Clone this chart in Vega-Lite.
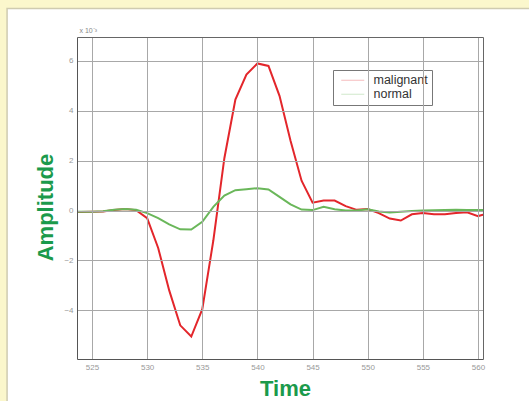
{
  "$schema": "https://vega.github.io/schema/vega-lite/v6.json",
  "width": 406,
  "height": 322,
  "autosize": {"type": "none"},
  "padding": {"left": 77, "top": 37, "right": 46, "bottom": 42},
  "background": "#fbf7cc",
  "config": {"view": {"stroke": null}, "font": "Liberation Sans"},
  "layer": [
    {
      "data": {"values": [{"k": 1}]},
      "mark": {"type": "rect", "fill": "white", "stroke": "#cfcbb0", "strokeWidth": 1.5, "clip": false},
      "encoding": {
        "x": {"datum": 517.3, "type": "quantitative", "scale": {"domain": [523.64, 560.45], "nice": false, "zero": false},
              "axis": {"orient": "top", "labels": false, "ticks": false, "grid": false, "domain": true, "domainColor": "#666666",
                       "title": "x 10⁻³", "titleX": 2, "titleY": -5, "titleAlign": "left", "titleAnchor": "start", "titleBaseline": "alphabetic",
                       "titleFontSize": 7, "titleColor": "#888888", "titleFontWeight": "normal", "zindex": 1}},
        "x2": {"datum": 580},
        "y": {"datum": 8.1, "type": "quantitative", "scale": {"domain": [-5.95, 6.96], "nice": false, "zero": false},
              "axis": {"orient": "right", "labels": false, "ticks": false, "grid": false, "domain": true, "domainColor": "#666666", "title": null, "zindex": 1}},
        "y2": {"datum": -12}
      }
    },
    {
      "data": {"values": [
        {"t": 523, "v": -0.06, "s": "malignant"},
        {"t": 524, "v": -0.06, "s": "malignant"},
        {"t": 525, "v": -0.05, "s": "malignant"},
        {"t": 526, "v": -0.04, "s": "malignant"},
        {"t": 527, "v": 0.02, "s": "malignant"},
        {"t": 528, "v": 0.06, "s": "malignant"},
        {"t": 529, "v": 0.02, "s": "malignant"},
        {"t": 530, "v": -0.3, "s": "malignant"},
        {"t": 531, "v": -1.5, "s": "malignant"},
        {"t": 532, "v": -3.2, "s": "malignant"},
        {"t": 533, "v": -4.6, "s": "malignant"},
        {"t": 534, "v": -5.05, "s": "malignant"},
        {"t": 535, "v": -3.95, "s": "malignant"},
        {"t": 536, "v": -1.2, "s": "malignant"},
        {"t": 537, "v": 2.1, "s": "malignant"},
        {"t": 538, "v": 4.45, "s": "malignant"},
        {"t": 539, "v": 5.45, "s": "malignant"},
        {"t": 540, "v": 5.9, "s": "malignant"},
        {"t": 541, "v": 5.8, "s": "malignant"},
        {"t": 542, "v": 4.6, "s": "malignant"},
        {"t": 543, "v": 2.8, "s": "malignant"},
        {"t": 544, "v": 1.2, "s": "malignant"},
        {"t": 545, "v": 0.32, "s": "malignant"},
        {"t": 546, "v": 0.4, "s": "malignant"},
        {"t": 547, "v": 0.4, "s": "malignant"},
        {"t": 548, "v": 0.18, "s": "malignant"},
        {"t": 549, "v": 0.03, "s": "malignant"},
        {"t": 550, "v": 0.06, "s": "malignant"},
        {"t": 551, "v": -0.1, "s": "malignant"},
        {"t": 552, "v": -0.32, "s": "malignant"},
        {"t": 553, "v": -0.4, "s": "malignant"},
        {"t": 554, "v": -0.15, "s": "malignant"},
        {"t": 555, "v": -0.1, "s": "malignant"},
        {"t": 556, "v": -0.15, "s": "malignant"},
        {"t": 557, "v": -0.15, "s": "malignant"},
        {"t": 558, "v": -0.1, "s": "malignant"},
        {"t": 559, "v": -0.07, "s": "malignant"},
        {"t": 560, "v": -0.22, "s": "malignant"},
        {"t": 561, "v": -0.1, "s": "malignant"},
        {"t": 523, "v": -0.05, "s": "normal"},
        {"t": 524, "v": -0.05, "s": "normal"},
        {"t": 525, "v": -0.05, "s": "normal"},
        {"t": 526, "v": -0.03, "s": "normal"},
        {"t": 527, "v": 0.03, "s": "normal"},
        {"t": 528, "v": 0.06, "s": "normal"},
        {"t": 529, "v": 0.03, "s": "normal"},
        {"t": 530, "v": -0.1, "s": "normal"},
        {"t": 531, "v": -0.3, "s": "normal"},
        {"t": 532, "v": -0.55, "s": "normal"},
        {"t": 533, "v": -0.75, "s": "normal"},
        {"t": 534, "v": -0.76, "s": "normal"},
        {"t": 535, "v": -0.45, "s": "normal"},
        {"t": 536, "v": 0.15, "s": "normal"},
        {"t": 537, "v": 0.6, "s": "normal"},
        {"t": 538, "v": 0.82, "s": "normal"},
        {"t": 539, "v": 0.86, "s": "normal"},
        {"t": 540, "v": 0.9, "s": "normal"},
        {"t": 541, "v": 0.85, "s": "normal"},
        {"t": 542, "v": 0.55, "s": "normal"},
        {"t": 543, "v": 0.25, "s": "normal"},
        {"t": 544, "v": 0.04, "s": "normal"},
        {"t": 545, "v": 0.02, "s": "normal"},
        {"t": 546, "v": 0.15, "s": "normal"},
        {"t": 547, "v": 0.05, "s": "normal"},
        {"t": 548, "v": 0.0, "s": "normal"},
        {"t": 549, "v": 0.0, "s": "normal"},
        {"t": 550, "v": 0.05, "s": "normal"},
        {"t": 551, "v": -0.04, "s": "normal"},
        {"t": 552, "v": -0.08, "s": "normal"},
        {"t": 553, "v": -0.05, "s": "normal"},
        {"t": 554, "v": -0.02, "s": "normal"},
        {"t": 555, "v": 0.0, "s": "normal"},
        {"t": 556, "v": 0.01, "s": "normal"},
        {"t": 557, "v": 0.02, "s": "normal"},
        {"t": 558, "v": 0.03, "s": "normal"},
        {"t": 559, "v": 0.02, "s": "normal"},
        {"t": 560, "v": 0.02, "s": "normal"},
        {"t": 561, "v": 0.02, "s": "normal"}
      ]},
      "mark": {"type": "line", "clip": true, "strokeWidth": 2},
      "encoding": {
        "x": {"field": "t", "type": "quantitative", "scale": {"domain": [523.64, 560.45], "nice": false, "zero": false},
              "axis": {"values": [525, 530, 535, 540, 545, 550, 555, 560], "grid": true, "gridColor": "#a8a8a8", "domainColor": "#555555", "ticks": false,
                       "labelFontSize": 8, "labelColor": "#999999", "labelPadding": 4, "title": "Time", "titleFontSize": 22, "titleColor": "#1b9a4b",
                       "titleFontWeight": "bold", "titleX": 208, "titleY": 36, "titleBaseline": "alphabetic", "zindex": 1}},
        "y": {"field": "v", "type": "quantitative", "scale": {"domain": [-5.95, 6.96], "nice": false, "zero": false},
              "axis": {"values": [-4, -2, 0, 2, 4, 6], "grid": true, "gridColor": "#a8a8a8", "domainColor": "#555555", "ticks": false,
                       "labelFontSize": 8, "labelColor": "#999999", "labelPadding": 4, "title": "Amplitude", "titleFontSize": 22, "titleColor": "#1b9a4b",
                       "titleFontWeight": "bold", "titleAngle": -90, "titleX": -32, "titleY": 170, "titleAlign": "center", "titleBaseline": "middle", "zindex": 1}},
        "color": {"field": "s", "type": "nominal",
                  "scale": {"domain": ["malignant", "normal"], "range": ["#e3262b", "#6ab75a"]},
                  "legend": {"title": null, "orient": "none", "legendX": 256, "legendY": 33, "symbolType": "M-0.4,0H4.2", "symbolSize": 100,
                             "symbolStrokeWidth": 1, "symbolOpacity": 0.3, "labelFontSize": 12.5, "labelColor": "#333333", "labelOffset": 24,
                             "strokeColor": "#777777", "padding": 4, "rowPadding": 1, "fillColor": "white"}}
      }
    }
  ],
  "resolve": {"axis": {"x": "independent", "y": "independent"}}
}
